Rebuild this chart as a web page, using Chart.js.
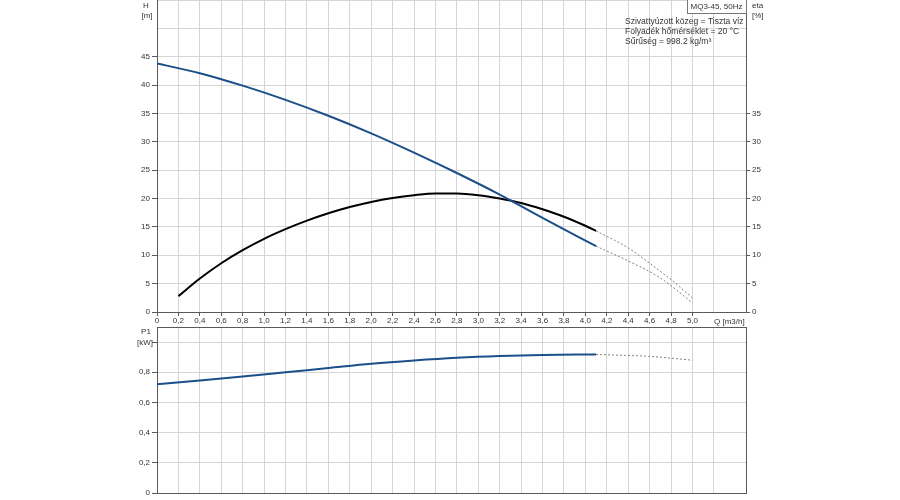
<!DOCTYPE html>
<html>
<head>
<meta charset="utf-8">
<script src="https://cdn.jsdelivr.net/npm/chart.js@4.4.0/dist/chart.umd.min.js"></script>
<style>
  body { margin: 0; background: #fff; }
  #wrap { position: relative; width: 900px; height: 500px; }
  #topChart { position: absolute; left: 0; top: 0; }
  #bottomChart { position: absolute; left: 0; top: 320px; }
</style>
</head>
<body>
<div id="wrap">
  <canvas id="topChart" width="900" height="330"></canvas>
  <canvas id="bottomChart" width="900" height="180"></canvas>
</div>
<script>
// head curve H [m]
const hQ = [0, 0.4, 0.8, 1.2, 1.6, 2.0, 2.4, 2.8, 3.2, 3.6, 4.1];
const hVal = [43.8, 42.1, 39.9, 37.4, 34.6, 31.5, 28.1, 24.5, 20.7, 16.6, 11.6];
const hExtQ = [4.1, 4.4, 4.7, 5.0];
const hExtVal = [11.6, 9.0, 6.0, 1.6];

// efficiency eta [%]
const etaQ = [0.2, 0.4, 0.6, 0.8, 1.0, 1.2, 1.4, 1.6, 1.8, 2.0, 2.2, 2.4, 2.6, 2.8, 3.0, 3.2, 3.4, 3.6, 3.8, 4.0, 4.1];
const etaVal = [2.8, 5.9, 8.6, 10.9, 12.9, 14.6, 16.1, 17.4, 18.5, 19.4, 20.1, 20.6, 20.9, 20.9, 20.6, 20.0, 19.2, 18.1, 16.8, 15.2, 14.3];
const etaExtQ = [4.1, 4.4, 4.6, 4.8, 5.0];
const etaExtVal = [14.3, 11.3, 8.6, 5.7, 2.5];

// power P1 [kW]
const pQ = [0, 0.4, 0.8, 1.2, 1.6, 2.0, 2.4, 2.8, 3.2, 3.6, 4.1];
const pVal = [0.72, 0.745, 0.772, 0.80, 0.828, 0.856, 0.878, 0.896, 0.908, 0.915, 0.918];
const pExtQ = [4.1, 4.6, 5.0];
const pExtVal = [0.918, 0.905, 0.88];

const infoLines = ['Szivattyúzott közeg = Tiszta víz', 'Folyadék hőmérséklet = 20 °C', 'Sűrűség = 998.2 kg/m³'];

const FONT = "'Liberation Sans', Arial, sans-serif";
const GRID = '#d6d6d6';
const AXIS = '#5a5a5a';
const BLUE = '#1c4f89';
Chart.defaults.font.family = FONT;
Chart.defaults.font.size = 8;
Chart.defaults.color = '#333';

const pts = (xs, ys) => xs.map((x, i) => ({ x: x, y: ys[i] }));
const comma = (v) => v === 0 ? '0' : v.toFixed(1).replace('.', ',');

function solid(data, color, axis) {
    return { data: data, borderColor: color, borderWidth: 2, pointRadius: 0,
             cubicInterpolationMode: 'monotone', yAxisID: axis };
}
function dotted(data, axis) {
    return { data: data, borderColor: '#808080', borderWidth: 1, borderDash: [2, 2],
             pointRadius: 0, cubicInterpolationMode: 'monotone', yAxisID: axis };
}

const textPlugin = {
    id: 'labels',
    afterDraw(chart, args, opts) {
        const ctx = chart.ctx;
        ctx.save();
        ctx.fillStyle = '#333';
        ctx.textBaseline = 'middle';
        (opts.items || []).forEach(t => {
            ctx.font = `${t.size || 8}px ${FONT}`;
            ctx.textAlign = t.align || 'left';
            ctx.fillText(t.text, t.x, t.y);
        });
        if (opts.box) {
            const b = opts.box;
            ctx.font = `8px ${FONT}`;
            ctx.fillStyle = '#fff';
            ctx.fillRect(b.x, b.y, b.w, b.h);
            ctx.strokeStyle = '#777';
            ctx.lineWidth = 1;
            ctx.strokeRect(b.x + 0.5, b.y + 0.5, b.w, b.h);
            ctx.fillStyle = '#333';
            ctx.textAlign = 'center';
            ctx.fillText(b.text, b.x + b.w / 2, b.y + b.h / 2 + 1);
        }
        ctx.restore();
    }
};

function xScale(showLabels, h) {
    return {
        type: 'linear', min: 0, max: 5.5,
        ticks: { stepSize: 0.2, autoSkip: false, maxRotation: 0, padding: 0, display: showLabels,
                 callback: (v) => v > 5.05 ? '' : comma(v) },
        grid: { color: GRID, tickLength: 4, drawTicks: showLabels,
                tickColor: (c) => c.tick && c.tick.value > 5.05 ? 'transparent' : AXIS },
        border: { color: AXIS },
        afterFit: (s) => { s.height = h; s.paddingLeft = 0; s.paddingRight = 0; }
    };
}

new Chart(document.getElementById('topChart'), {
    type: 'line',
    data: {
        datasets: [
            solid(pts(hQ, hVal), BLUE, 'y'),
            solid(pts(etaQ, etaVal), '#000', 'y2'),
            dotted(pts(hExtQ, hExtVal), 'y'),
            dotted(pts(etaExtQ, etaExtVal), 'y2')
        ]
    },
    options: {
        responsive: false, animation: false,
        layout: { padding: 0 },
        plugins: {
            legend: { display: false }, tooltip: { enabled: false },
            labels: {
                items: [
                    { text: 'H', x: 146, y: 6, align: 'center' },
                    { text: '[m]', x: 147, y: 16, align: 'center' },
                    { text: 'eta', x: 752, y: 6 },
                    { text: '[%]', x: 752, y: 16 },
                    { text: 'Q [m3/h]', x: 714, y: 322 },
                    { text: infoLines[0], x: 625, y: 22, size: 8.5 },
                    { text: infoLines[1], x: 625, y: 32, size: 8.5 },
                    { text: infoLines[2], x: 625, y: 42, size: 8.5 }
                ],
                box: { x: 687, y: -1, w: 59, h: 14, text: 'MQ3-45, 50Hz' }
            }
        },
        scales: {
            x: xScale(true, 18),
            y: {
                position: 'left', min: 0, max: 55,
                ticks: { stepSize: 5, padding: 2, callback: (v) => v <= 45 ? v : '' },
                grid: { color: GRID, tickLength: 5,
                        tickColor: (c) => c.tick && c.tick.value > 45 ? 'transparent' : AXIS },
                border: { color: AXIS },
                afterFit: (s) => { s.width = 157; s.paddingTop = 0; s.paddingBottom = 0; }
            },
            y2: {
                position: 'right', min: 0, max: 55,
                ticks: { stepSize: 5, padding: 2, callback: (v) => v <= 35 ? v : '' },
                grid: { drawOnChartArea: false, tickLength: 4,
                        tickColor: (c) => c.tick && c.tick.value > 35 ? 'transparent' : AXIS },
                border: { color: AXIS },
                afterFit: (s) => { s.width = 154; s.paddingTop = 0; s.paddingBottom = 0; }
            }
        }
    },
    plugins: [textPlugin]
});

new Chart(document.getElementById('bottomChart'), {
    type: 'line',
    data: {
        datasets: [
            solid(pts(pQ, pVal), BLUE, 'y'),
            dotted(pts(pExtQ, pExtVal), 'y')
        ]
    },
    options: {
        responsive: false, animation: false,
        layout: { padding: { top: 7 } },
        plugins: {
            legend: { display: false }, tooltip: { enabled: false },
            labels: {
                items: [
                    { text: 'P1', x: 146, y: 12, align: 'center' },
                    { text: '[kW]', x: 145, y: 23, align: 'center' }
                ]
            }
        },
        scales: {
            x: xScale(false, 7),
            y: {
                position: 'left', min: 0, max: 1.1,
                ticks: { stepSize: 0.2, padding: 2, callback: (v) => v <= 0.85 ? comma(v) : '' },
                grid: { color: (c) => c.tick && c.tick.value > 1.05 ? AXIS : GRID,
                        tickLength: 5,
                        tickColor: (c) => c.tick && c.tick.value > 1.05 ? 'transparent' : AXIS },
                border: { color: AXIS },
                afterFit: (s) => { s.width = 157; s.paddingTop = 0; s.paddingBottom = 0; }
            },
            y2: {
                position: 'right', min: 0, max: 1.1,
                ticks: { display: false },
                grid: { drawOnChartArea: false, drawTicks: false },
                border: { color: AXIS },
                afterFit: (s) => { s.width = 154; s.paddingTop = 0; s.paddingBottom = 0; }
            }
        }
    },
    plugins: [textPlugin]
});
</script>
</body>
</html>
